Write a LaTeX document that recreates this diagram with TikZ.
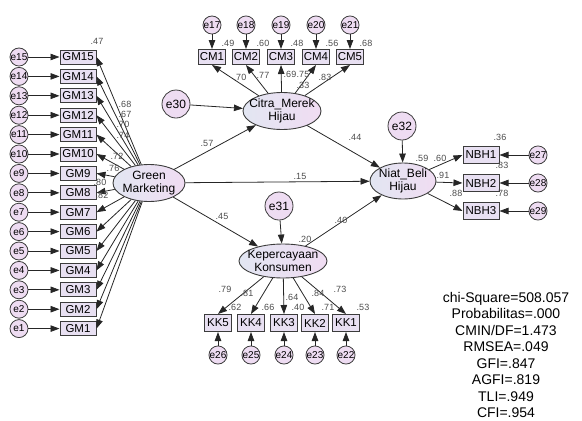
\documentclass[tikz,border=0pt]{standalone}
\usepackage{fontspec}
\setmainfont{Liberation Sans}
\usetikzlibrary{shapes.geometric,arrows.meta}
\definecolor{obsfill}{RGB}{232,224,242}
\definecolor{errfill}{RGB}{238,220,242}
\definecolor{latleft}{RGB}{226,230,242}
\definecolor{latright}{RGB}{240,220,242}
\definecolor{edgegray}{RGB}{60,60,60}
\tikzset{
  obsbox/.style={draw=edgegray,line width=1pt,fill=obsfill,minimum width=36pt,minimum height=14pt,inner sep=0pt,font=\fontsize{11.5}{12}\selectfont},
  errcirc/.style={circle,draw=edgegray,line width=0.8pt,fill=errfill,minimum size=18pt,inner sep=0pt,font=\fontsize{10}{10}\selectfont},
  bigerr/.style={errcirc,minimum size=28pt,font=\fontsize{12}{12}\selectfont},
  latent/.style={ellipse,draw=edgegray,line width=0.9pt,left color=latleft,right color=latright,inner sep=0pt},
  lattext/.style={align=center,inner sep=0pt,font=\fontsize{12}{13}\selectfont},
  regarrow/.style={draw=black!85,line width=0.8pt,-{Triangle[length=9pt,width=6.5pt]}},
  est/.style={text=black!70,font=\fontsize{9}{9}\selectfont,inner sep=0pt},
}

\begin{document}
\begin{tikzpicture}[x=1pt,y=-1pt]
  \useasboundingbox (0,0) rectangle (582,421);

  \node[latent,minimum width=72pt,minimum height=37pt] (gm) at (149,183) {};
  \node[lattext] (gmtxt) at (gm) {Green\\Marketing};
  \node[latent,minimum width=78pt,minimum height=37pt] (cmh) at (282,111) {};
  \node[lattext] (cmhtxt) at (cmh) {Citra\_Merek\\Hijau};
  \node[latent,minimum width=66pt,minimum height=36pt] (nbh) at (403,181) {};
  \node[lattext] (nbhtxt) at (nbh) {Niat\_Beli\\Hijau};
  \node[latent,minimum width=88pt,minimum height=34pt] (kk) at (283,261) {};
  \node[lattext] (kktxt) at (kk) {Kepercayaan\\Konsumen};

  \foreach \k in {1,...,15} {
    \pgfmathsetmacro\yy{57+(15-\k)*19.4}
    \node[obsbox] (gm\k) at (78,\yy) {GM\k};
    \node[errcirc] (e\k) at (19,\yy) {e\k};
    \draw[regarrow] (e\k) -- (gm\k);
    \draw[regarrow] (gm) -- (gm\k.east);
  }

  \foreach \k/\xx in {1/212,2/246,3/281,4/316,5/350} {
    \pgfmathtruncatemacro\ee{16+\k}
    \node[obsbox,minimum width=27pt,minimum height=15pt] (cm\k) at (\xx,57) {CM\k};
    \node[errcirc,minimum size=17pt] (e\ee) at (\xx,25) {e\ee};
    \draw[regarrow] (e\ee) -- (cm\k);
    \draw[regarrow] (cmh) -- (cm\k.south);
  }

  \foreach \k/\xx in {5/218,4/251,3/284,2/315,1/346} {
    \pgfmathtruncatemacro\ee{21+\k}
    \node[obsbox,minimum width=27pt,minimum height=17pt] (kk\k) at (\xx,323) {KK\k};
    \node[errcirc,minimum size=17pt] (e\ee) at (\xx,355) {e\ee};
    \draw[regarrow] (e\ee) -- (kk\k);
    \draw[regarrow] (kk) -- (kk\k.north);
  }

  \foreach \k/\yy in {1/155,2/183,3/211} {
    \pgfmathtruncatemacro\ee{26+\k}
    \node[obsbox,minimum height=17pt] (nbh\k) at (481,\yy) {NBH\k};
    \node[errcirc] (e\ee) at (538,\yy) {e\ee};
    \draw[regarrow] (e\ee) -- (nbh\k);
    \draw[regarrow] (nbh) -- (nbh\k.west);
  }

  \node[bigerr] (e30) at (176,104) {e30};
  \node[bigerr] (e31) at (279,206) {e31};
  \node[bigerr] (e32) at (402,126) {e32};
  \draw[regarrow] (e30) -- (cmh);
  \draw[regarrow] (e31) -- (kk);
  \draw[regarrow] (e32) -- (nbh);

  \draw[regarrow] (gm) -- (cmh);
  \draw[regarrow] (gm) -- (nbh);
  \draw[regarrow] (gm) -- (kk);
  \draw[regarrow] (cmh) -- (nbh);
  \draw[regarrow] (kk) -- (nbh);

  \foreach \t/\x/\y [count=\i] in {.47/97/41,.68/125/104,.67/125/114,.70/123/124,.74/123/135,.72/117/156,.76/113/168,.80/100/182,.82/102/195,
      .57/207/143,.15/300/176,.45/222/216,.44/355/137,.40/341/220,.20/305/239,
      .49/228/43,.60/263/43,.48/297/43,.56/332/43,.68/366/43,
      .70/240/77,.77/263/75,.69/290/74,.75/303/74,.83/325/77,.33/303/85,
      .36/500/137,.83/502/165,.78/502/193,.59/422/158,.60/440/158,.91/443/175,.88/456/193,
      .79/225/289,.81/247/293,.64/292/297,.84/318/293,.73/340/289,
      .62/235/307,.66/268/307,.40/298/307,.71/328/307,.53/363/307}
    \node[est] (v\i) at (\x,\y) {\t};

  \node[align=center,inner sep=0pt,font=\fontsize{14}{16.5}\selectfont] (fit) at (506,355)
    {chi-Square=508.057\\Probabilitas=.000\\CMIN/DF=1.473\\RMSEA=.049\\GFI=.847\\AGFI=.819\\TLI=.949\\CFI=.954};
\end{tikzpicture}
\end{document}
